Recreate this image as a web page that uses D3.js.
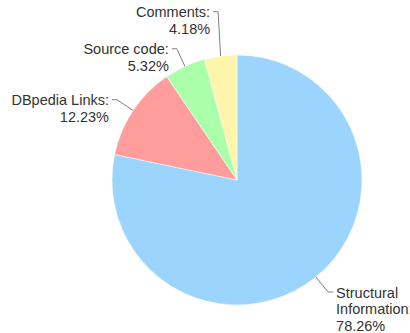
<!DOCTYPE html>
<html>
<head>
<meta charset="utf-8">
<script src="https://cdn.jsdelivr.net/npm/d3@7"></script>
<style>
  html, body { margin: 0; padding: 0; background: #fff; }
  svg { display: block; }
  text { font-family: "Liberation Sans", Arial, sans-serif; font-size: 14.5px; fill: #333; }
</style>
</head>
<body>
<svg id="chart" width="410" height="333"></svg>
<script>
const categories = ["Structural Information", "DBpedia Links", "Source code", "Comments"];
const values = [78.26, 12.23, 5.32, 4.18];
const colors = ["#9bd5fe", "#ff9c9c", "#abffab", "#fff6ab"];

const W = 410, H = 333;
const cx = 237, cy = 180, R = 125;
const lineH = 16.5;

const svg = d3.select("#chart");
const g = svg.append("g").attr("transform", `translate(${cx},${cy})`);

const data = categories.map((c, i) => ({ name: c, value: values[i], color: colors[i] }));

const pie = d3.pie().value(d => d.value).sort(null);
const arc = d3.arc().innerRadius(0).outerRadius(R);
const arcs = pie(data);

g.selectAll("path.slice").data(arcs).join("path")
  .attr("class", "slice")
  .attr("d", arc)
  .attr("fill", d => d.data.color)
  .attr("stroke", "#fff")
  .attr("stroke-width", 0.5);

// measure helper
const meas = svg.append("text").attr("visibility", "hidden");
function tw(s) { meas.text(s); return meas.node().getComputedTextLength(); }

const labels = arcs.map(a => {
  const m = (a.startAngle + a.endAngle) / 2;
  const side = Math.sin(m) >= 0 ? 1 : -1;
  const p = [R * Math.sin(m), -R * Math.cos(m)];
  const e = [1.155 * R * Math.sin(m), -1.155 * R * Math.cos(m)];
  const textX = e[0] + side * 8;
  const avail = side > 0 ? (W - (cx + textX)) : (cx + textX);
  const words = (a.data.name + ":").split(" ");
  const lines = [];
  let cur = "";
  words.forEach(w => {
    const t = cur ? cur + " " + w : w;
    if (cur && tw(t) > avail) { lines.push(cur); cur = w; } else cur = t;
  });
  if (cur) lines.push(cur);
  lines.push(d3.format(".2f")(a.data.value) + "%");
  return { a, m, side, p, e, lines };
});
meas.remove();

// collision relaxation per side
[-1, 1].forEach(s => {
  const L = labels.filter(l => l.side === s).sort((x, y) => x.e[1] - y.e[1]);
  for (let i = L.length - 2; i >= 0; i--) {
    const h = L[i].lines.length * lineH + 4;
    if (L[i].e[1] > L[i + 1].e[1] - h) L[i].e[1] = L[i + 1].e[1] - h;
  }
});

labels.forEach(l => {
  const hx = l.e[0] + l.side * 5;
  g.append("polyline")
    .attr("points", [l.p, l.e, [hx, l.e[1]]].map(q => q.join(",")).join(" "))
    .attr("fill", "none")
    .attr("stroke", "#808080")
    .attr("stroke-width", 1);
  const t = g.append("text")
    .attr("text-anchor", l.side > 0 ? "start" : "end")
    .attr("x", hx + l.side * 3)
    .attr("y", l.e[1] + 5.5);
  l.lines.forEach((ln, i) => {
    t.append("tspan").attr("x", hx + l.side * 3).attr("dy", i === 0 ? 0 : lineH).text(ln);
  });
});
</script>
</body>
</html>
